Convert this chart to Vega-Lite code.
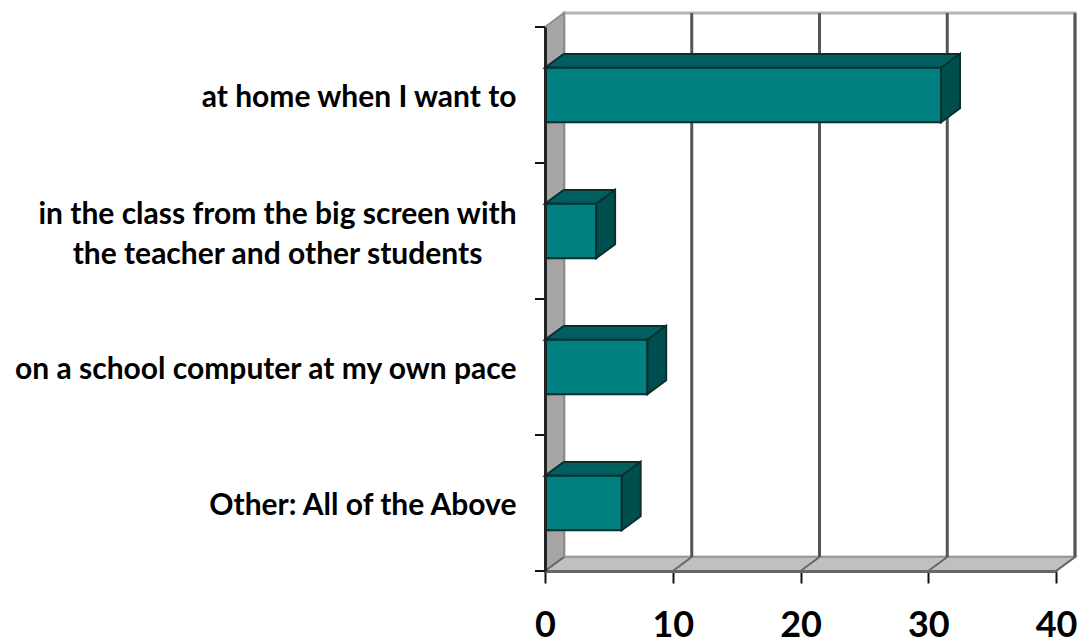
{
"$schema":"https://vega.github.io/schema/vega-lite/v6.json",
"width":511,"height":544,
"autosize":{"type":"none"},
"padding":{"left":545,"right":29,"top":27,"bottom":73},
"background":"white",
"config":{"view":{"stroke":null},"axis":{"grid":false}},
"datasets":{
"bars":[
{"category":"at home when I want to","start":0,"value":31},
{"category":"in the class from the big screen with\nthe teacher and other students","start":0,"value":4},
{"category":"on a school computer at my own pace","start":0,"value":8},
{"category":"Other: All of the Above","start":0,"value":6}],
"ticks":[{"tick":0},{"tick":10},{"tick":20},{"tick":30},{"tick":40}],
"grid":[{"tick":10},{"tick":20},{"tick":30},{"tick":40}],
"wall":[{"from":0,"to":40,"mid":20}]
},
"layer":[
{"data":{"name":"wall"},
 "mark":{"type":"point","shape":"M-23.65,-28.6 L27.45,-28.6 L27.45,25.8 L-23.65,25.8 Z","filled":true,"size":400,"opacity":1,"fill":"white","stroke":"#b4b4b4","strokeWidth":3},
 "encoding":{"x":{"field":"mid","type":"quantitative","scale":{"domain":[0,40],"nice":false},
   "axis":{"title":null,"values":[0,10,20,30,40],"tickSize":12,"tickColor":"#111","tickWidth":2,"domainColor":"#666","domainWidth":3,"labelFont":"Lato","labelFontWeight":"bold","labelFontSize":36,"labelColor":"black","labelPadding":25,"labelFlush":false,"labelOverlap":false,"format":"d","zindex":1}}}},
{"data":{"name":"wall"},
 "mark":{"type":"point","shape":"M0,-27.2 L1.9,-28.6 L1.9,25.8 L0,27.2 Z","filled":true,"size":400,"opacity":1,"fill":"#a6a6a6","stroke":"#8c8c8c","strokeWidth":2},
 "encoding":{"x":{"field":"from","type":"quantitative"}}},
{"data":{"name":"wall"},
 "mark":{"type":"point","shape":"M-25.55,27.2 L-23.65,25.8 L27.45,25.8 L25.55,27.2 Z","filled":true,"size":400,"opacity":1,"fill":"#c0c0c0","stroke":"#9a9a9a","strokeWidth":2},
 "encoding":{"x":{"field":"mid","type":"quantitative"}}},
{"data":{"name":"ticks"},
 "mark":{"type":"point","shape":"M0,27.2 L1.9,25.8","filled":false,"size":400,"opacity":1,"stroke":"#666","strokeWidth":2},
 "encoding":{"x":{"field":"tick","type":"quantitative"}}},
{"data":{"name":"grid"},
 "mark":{"type":"point","shape":"M1.9,-28.6 L1.9,25.8","filled":false,"size":400,"opacity":1,"stroke":"#555","strokeWidth":3},
 "encoding":{"x":{"field":"tick","type":"quantitative"}}},
{"data":{"name":"bars"},
 "mark":{"type":"bar","fill":"#006060","xOffset":19,"x2Offset":19,"yOffset":-14,"y2Offset":-14},
 "encoding":{"x":{"field":"value","type":"quantitative"},
  "y":{"field":"category","type":"nominal","sort":null,"scale":{"paddingInner":0.6,"paddingOuter":0.3},
   "axis":{"title":null,"domainColor":"#222","domainWidth":3,"ticks":false,"labelFont":"Lato","labelFontWeight":"bold","labelFontSize":30,"labelColor":"black","labelLimit":540,"labelLineHeight":40,"labelExpr":"split(datum.label,'\\n')","zindex":1,
    "labelAlign":{"condition":{"test":"indexof(datum.value,'\\n')>=0","value":"center"},"value":"right"},
    "labelPadding":{"condition":{"test":"indexof(datum.value,'\\n')>=0","value":268},"value":29},
    "labelOffset":{"condition":{"test":"indexof(datum.value,'\\n')>=0","value":-16},"value":3}}}}},
{"data":{"name":"bars"},
 "mark":{"type":"point","shape":"M-1,-6.8 L0,-6.8 M-1,6.8 L0,6.8","filled":false,"size":400,"opacity":1,"stroke":"#111","strokeWidth":2},
 "encoding":{"x":{"field":"start","type":"quantitative"},"y":{"field":"category","type":"nominal","sort":null}}},
{"data":{"name":"bars"},
 "mark":{"type":"point","shape":"M1.9,-2.72 L0,-2.72 L1.9,-4.12","filled":true,"size":400,"opacity":1,"fill":"#006060","stroke":"#0a2e2e","strokeWidth":2},
 "encoding":{"x":{"field":"start","type":"quantitative"},"y":{"field":"category","type":"nominal","sort":null}}},
{"data":{"name":"bars"},
 "mark":{"type":"rule","stroke":"#0a2e2e","strokeWidth":2,"xOffset":19,"x2Offset":19,"yOffset":-41,"y2Offset":-41},
 "encoding":{"x":{"field":"start","type":"quantitative"},"x2":{"field":"value"},"y":{"field":"category","type":"nominal","sort":null}}},
{"data":{"name":"bars"},
 "mark":{"type":"point","shape":"M0,-2.72 L1.9,-4.12 L1.9,1.32 L0,2.72 Z","filled":true,"size":400,"opacity":1,"fill":"#004f4f","stroke":"#0a2e2e","strokeWidth":2},
 "encoding":{"x":{"field":"value","type":"quantitative"},"y":{"field":"category","type":"nominal","sort":null}}},
{"data":{"name":"bars"},
 "mark":{"type":"bar","fill":"#008080","stroke":"#0a2e2e","strokeWidth":2},
 "encoding":{"x":{"field":"value","type":"quantitative"},"y":{"field":"category","type":"nominal","sort":null}}}
]
}
